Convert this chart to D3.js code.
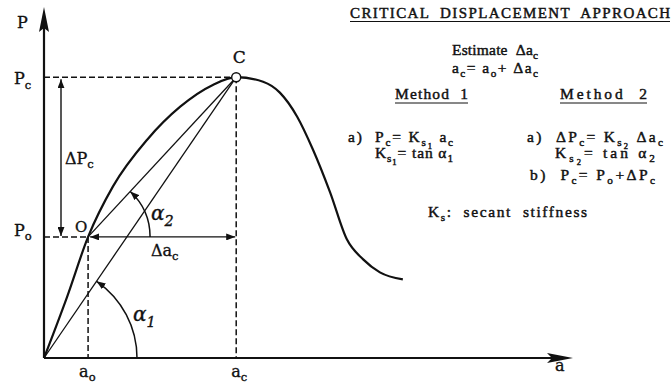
<!DOCTYPE html>
<html><head><meta charset="utf-8">
<script src="https://cdn.jsdelivr.net/npm/d3@7"></script>
<style>
html,body{margin:0;padding:0;background:#fff;}
svg{display:block;}
text{font-family:"DejaVu Serif",serif;fill:#111;stroke:#111;stroke-width:0.35px;}
text.note{font-family:"Liberation Serif",serif;stroke-width:0.45px;white-space:pre;}
</style></head><body>
<svg id="chart" width="671" height="384"></svg>
<script>
// Load (P) versus crack length / displacement (a)
const curveA = [0, 0.52, 1.0, 1.565, 2.34, 3.09, 3.83, 4.36, 4.97, 5.35, 5.74, 6.10, 6.49, 6.87, 7.24, 7.62, 8.14];
const curveP = [0, 1.73, 3.45, 4.89, 6.22, 7.16, 7.78, 8.0, 7.87, 7.56, 6.88, 5.94, 4.72, 3.38, 2.81, 2.44, 2.24];
// Characteristic points: O (onset) and C (critical)
const pointNames = ["O", "C"];
const pointA = [1.0, 4.36];
const pointP = [3.45, 8.0];
// Axis extents
const aMax = 12, pMax = 10;

const [a0, ac] = pointA;
const [P0, Pc] = pointP;

const svg = d3.select("#chart");
const x = d3.scaleLinear().domain([0, aMax]).range([44, 573]);
const y = d3.scaleLinear().domain([0, pMax]).range([358, 7]);
const ink = "#111";

// arrow marker for dimension lines and angle arcs
const defs = svg.append("defs");
defs.append("marker").attr("id", "arr")
  .attr("markerUnits", "userSpaceOnUse").attr("viewBox", "0 0 9 7")
  .attr("markerWidth", 9).attr("markerHeight", 7)
  .attr("refX", 9).attr("refY", 3.5).attr("orient", "auto-start-reverse")
  .append("path").attr("d", "M0,0 L9,3.5 L0,7 Z").attr("fill", ink);

// rich text helper: parts = [[string, level]], level 0 normal, 1 subscript, 2 sub-subscript.
// With o.width the letter spacing is tuned so the line spans that width.
function rich(x0, y0, parts, o = {}) {
  const size = o.size || 14;
  const off = [0, 0.28, 0.42], sc = [1, 0.72, 0.55];
  const t = svg.append("text").attr("x", x0).attr("y", y0).attr("font-size", size);
  if (o.cls) t.attr("class", o.cls).attr("xml:space", "preserve");
  if (o.anchor) t.attr("text-anchor", o.anchor);
  if (o.italic) t.attr("font-style", "italic");
  let lv = 0;
  parts.forEach(([s, l]) => {
    t.append("tspan").attr("dy", ((off[l] - off[lv]) * size).toFixed(2))
      .attr("font-size", (size * sc[l]).toFixed(2)).text(s);
    lv = l;
  });
  if (o.width) {
    const n = parts.reduce((k, p) => k + p[0].length, 0);
    const w = t.node().getComputedTextLength();
    t.attr("letter-spacing", ((o.width - w) / Math.max(1, n - 1)).toFixed(2));
  }
  return t;
}

// guide lines (dashed)
const dash = svg.append("g").attr("stroke", ink).attr("stroke-width", 1.5)
  .attr("stroke-dasharray", "6,3").attr("fill", "none");
dash.append("line").attr("x1", x(0)).attr("x2", x(ac)).attr("y1", y(Pc)).attr("y2", y(Pc));
dash.append("line").attr("x1", x(0)).attr("x2", x(a0)).attr("y1", y(P0)).attr("y2", y(P0));
dash.append("line").attr("x1", x(a0)).attr("x2", x(a0)).attr("y1", y(P0)).attr("y2", y(0));
dash.append("line").attr("x1", x(ac)).attr("x2", x(ac)).attr("y1", y(Pc)).attr("y2", y(0));

// axes with filled arrowheads
const axes = svg.append("g");
axes.append("line").attr("x1", x(0)).attr("y1", y(0)).attr("x2", x(0)).attr("y2", y(pMax) + 10)
  .attr("stroke", ink).attr("stroke-width", 2.2);
axes.append("path").attr("fill", ink)
  .attr("d", `M${x(0)},${y(pMax)} L${x(0) + 5},${y(pMax) + 25} L${x(0)},${y(pMax) + 21} L${x(0) - 5},${y(pMax) + 25} Z`);
axes.append("line").attr("x1", x(0)).attr("y1", y(0)).attr("x2", x(aMax) - 10).attr("y2", y(0))
  .attr("stroke", ink).attr("stroke-width", 1.9);
axes.append("path").attr("fill", ink)
  .attr("d", `M${x(aMax)},${y(0)} L${x(aMax) - 26},${y(0) - 5} L${x(aMax) - 21},${y(0)} L${x(aMax) - 26},${y(0) + 5} Z`);

// secant lines from the origin and from O to C
const sec = svg.append("g").attr("stroke", ink).attr("stroke-width", 1.3);
sec.append("line").attr("x1", x(0)).attr("y1", y(0)).attr("x2", x(ac)).attr("y2", y(Pc));
sec.append("line").attr("x1", x(a0)).attr("y1", y(P0)).attr("x2", x(ac)).attr("y2", y(Pc));

// load curve
const pts = curveA.map((a, i) => [a, curveP[i]]);
svg.append("path").datum(pts)
  .attr("d", d3.line().x(d => x(d[0])).y(d => y(d[1])).curve(d3.curveMonotoneX))
  .attr("fill", "none").attr("stroke", ink).attr("stroke-width", 2.2);

// dimension arrows ΔPc and Δac
const dim = svg.append("g").attr("stroke", ink).attr("stroke-width", 1.4);
dim.append("line").attr("x1", x(0) + 17).attr("x2", x(0) + 17)
  .attr("y1", y(Pc) + 2).attr("y2", y(P0) - 1)
  .attr("marker-start", "url(#arr)").attr("marker-end", "url(#arr)");
dim.append("line").attr("x1", x(a0) + 2).attr("x2", x(ac) - 1)
  .attr("y1", y(P0)).attr("y2", y(P0))
  .attr("marker-start", "url(#arr)").attr("marker-end", "url(#arr)");

// angle arcs α1 (origin → C) and α2 (O → C)
function angleArc(cx, cy, r, tx, ty) {
  const th = Math.atan2(cy - ty, tx - cx);
  const ex = cx + r * Math.cos(th), ey = cy - r * Math.sin(th);
  svg.append("path").attr("d", `M${cx + r},${cy} A${r},${r} 0 0 0 ${ex},${ey}`)
    .attr("fill", "none").attr("stroke", ink).attr("stroke-width", 1.5)
    .attr("marker-end", "url(#arr)");
}
angleArc(x(0), y(0), 93, x(ac), y(Pc));
angleArc(x(a0), y(P0), 62, x(ac), y(Pc));

// point C marker
svg.append("circle").attr("cx", x(ac)).attr("cy", y(Pc)).attr("r", 4.5)
  .attr("fill", "#fff").attr("stroke", ink).attr("stroke-width", 1.4);

// axis and point labels
rich(17, 28, [["P", 0]], { size: 16 });
rich(14, y(Pc) + 7, [["P", 0], ["c", 1]], { size: 16 });
rich(14, y(P0) - 1, [["P", 0], ["o", 1]], { size: 16 });
rich(x(a0) - 13, y(P0) - 5, [[pointNames[0], 0]], { size: 15 });
rich(x(ac) + 3, y(Pc) - 14, [[pointNames[1], 0]], { size: 17, anchor: "middle" });
rich(x(a0) - 9, 377, [["a", 0], ["o", 1]], { size: 16 });
rich(x(ac) - 5, 377, [["a", 0], ["c", 1]], { size: 16 });
rich(555, 371, [["a", 0]], { size: 16 });
rich(65, 164, [["ΔP", 0], ["c", 1]], { size: 16 });
rich(151, 256, [["Δa", 0], ["c", 1]], { size: 16 });
rich(151, 220, [["α", 0], ["2", 1]], { size: 20, italic: true });
rich(133, 321, [["α", 0], ["1", 1]], { size: 20, italic: true });

// explanatory notes
const N = { cls: "note", size: 15.5 };
rich(350, 18, [["CRITICAL  DISPLACEMENT  APPROACH", 0]], { ...N, size: 15, width: 320 });
svg.append("line").attr("x1", 350).attr("x2", 670).attr("y1", 21.5).attr("y2", 21.5).attr("stroke", ink).attr("stroke-width", 1);
rich(452, 55, [["Estimate  Δa", 0], ["c", 1]], { ...N, width: 86 });
rich(452, 73, [["a", 0], ["c", 1], ["= a", 0], ["o", 1], ["+ Δa", 0], ["c", 1]], { ...N, width: 86 });
rich(395, 99, [["Method  1", 0]], { ...N, width: 73 });
svg.append("line").attr("x1", 395).attr("x2", 468).attr("y1", 103).attr("y2", 103).attr("stroke", ink).attr("stroke-width", 1);
rich(560, 99, [["Method  2", 0]], { ...N, width: 87 });
svg.append("line").attr("x1", 560).attr("x2", 647).attr("y1", 103).attr("y2", 103).attr("stroke", ink).attr("stroke-width", 1);
rich(348, 142, [["a)  P", 0], ["c", 1], ["= K", 0], ["s", 1], ["1", 2], [" a", 0], ["c", 1]], { ...N, width: 105 });
rich(375, 158, [["K", 0], ["s", 1], ["1", 2], ["= tan α", 0], ["1", 1]], { ...N, width: 78 });
rich(527, 142, [["a)  ΔP", 0], ["c", 1], ["= K", 0], ["s", 1], ["2", 2], [" Δa", 0], ["c", 1]], { ...N, width: 136 });
rich(555, 158, [["K", 0], ["s", 1], ["2", 2], ["= tan α", 0], ["2", 1]], { ...N, width: 100 });
rich(530, 180, [["b)  P", 0], ["c", 1], ["= P", 0], ["o", 1], ["+ΔP", 0], ["c", 1]], { ...N, width: 125 });
rich(428, 217, [["K", 0], ["s", 1], [":  secant  stiffness", 0]], { ...N, width: 159 });
</script>
</body></html>
